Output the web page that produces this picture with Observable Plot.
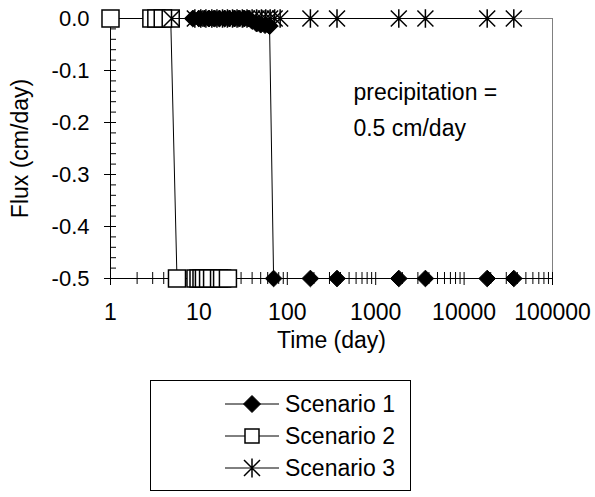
<!DOCTYPE html>
<html><head><meta charset="utf-8">
<script src="https://cdn.jsdelivr.net/npm/d3@7"></script>
<script src="https://cdn.jsdelivr.net/npm/@observablehq/plot@0.6"></script>
<style>
body{margin:0;background:#fff;font-family:"Liberation Sans",Arial,sans-serif;}
#wrap{position:relative;width:595px;height:497px;overflow:hidden;}
#legend{position:absolute;left:150px;top:380px;width:259px;height:109px;border:1px solid #000;background:#fff;}
.row{position:absolute;left:0;height:24px;width:259px;}
.row svg{position:absolute;left:74px;top:0;}
.row span{position:absolute;left:134px;top:0;line-height:24px;font-size:23px;color:#000;white-space:nowrap;}
</style></head><body><div id="wrap"><div id="legend"></div></div>
<script>
// ---- data ----
const seriesNames = ["Scenario 1", "Scenario 2", "Scenario 3"];

const s1Time = [8.5, 10, 11.5, 13, 15, 17, 19.5, 22, 25, 28, 32, 36, 40, 45, 50, 56, 63, 70, 182.5, 365, 1825, 3650, 18250, 36500];
const s1Flux = [0, 0, 0, 0, 0, 0, 0, 0, 0, 0, 0, 0, -0.005, -0.01, -0.012, -0.013, -0.015, -0.5, -0.5, -0.5, -0.5, -0.5, -0.5, -0.5];

const s2Time = [1, 2.9, 3.3, 3.9, 4.8, 5.65, 9.15, 9.9, 10.7, 11.4, 12.7, 14.1, 16.9, 18.3, 21.3];
const s2Flux = [0, 0, 0, 0, 0, -0.5, -0.5, -0.5, -0.5, -0.5, -0.5, -0.5, -0.5, -0.5, -0.5];

const s3Time = [4.9, 9, 10.5, 12, 14, 16, 18.5, 21, 24, 27, 31, 35, 40, 45, 51, 57, 64, 72, 83, 182.5, 365, 1825, 3650, 18250, 36500];
const s3Flux = [0, 0, 0, 0, 0, 0, 0, 0, 0, 0, 0, 0, 0, 0, 0, 0, 0, 0, 0, 0, 0, 0, 0, 0, 0];

const xTickValues = [1, 10, 100, 1000, 10000, 100000];
const xTickLabels = ["1", "10", "100", "1000", "10000", "100000"];
const yTickValues = [0, -0.1, -0.2, -0.3, -0.4, -0.5];
const yTickLabels = ["0.0", "-0.1", "-0.2", "-0.3", "-0.4", "-0.5"];
const xTitle = "Time (day)";
const yTitle = "Flux (cm/day)";
const annotationText = "precipitation =\n0.5 cm/day";
const annotationX = 560;
const annotationY = -0.169;

// ---- build ----
const toRows = (t, f) => t.map((d, i) => ({time: d, flux: f[i]}));
const s1 = toRows(s1Time, s1Flux);
const s2 = toRows(s2Time, s2Flux);
const s3 = toRows(s3Time, s3Flux);

const xMinor = [1, 10, 100, 1000, 10000].flatMap(d => d3.range(2, 10).map(k => d * k));
const yMinor = d3.range(0, 26).map(i => -i / 50);

const excelStar = {
  draw(ctx, size) {
    const r = Math.sqrt(size / Math.PI);
    ctx.moveTo(0, -1.15 * r); ctx.lineTo(0, 1.15 * r);
    ctx.moveTo(-r, -r); ctx.lineTo(r, r);
    ctx.moveTo(-r, r); ctx.lineTo(r, -r);
  }
};

const FS = 23;
const chart = Plot.plot({
  width: 595, height: 370,
  marginLeft: 110, marginRight: 43, marginTop: 18, marginBottom: 92,
  x: {type: "log", domain: [1, 100000]},
  y: {domain: [-0.5, 0]},
  style: {fontFamily: "'Liberation Sans', Arial, sans-serif", fontSize: FS + "px", color: "black", background: "white", overflow: "visible"},
  marks: [
    Plot.ruleY([0], {stroke: "#808080"}),
    Plot.ruleX([100000], {stroke: "#808080"}),
    Plot.ruleX([1], {stroke: "black"}),
    Plot.ruleY([-0.5], {stroke: "black"}),
    Plot.axisX({ticks: xMinor, anchor: "bottom", tickSize: 12, dy: -6, fill: "none", label: null}),
    Plot.axisX({ticks: xTickValues, anchor: "bottom", tickSize: 13, dy: -6, fill: "none", label: null}),
    Plot.axisX({ticks: xTickValues, anchor: "bottom", tickSize: 0, tickPadding: 25, fontSize: FS, label: null,
      tickFormat: d => xTickLabels[xTickValues.indexOf(d)]}),
    Plot.axisY({ticks: yMinor, anchor: "left", tickSize: 6, dx: 6, fill: "none", label: null}),
    Plot.axisY({ticks: yTickValues, anchor: "left", tickSize: 6, tickPadding: 15, fontSize: 22, label: null,
      tickFormat: d => yTickLabels[yTickValues.indexOf(d)]}),
    Plot.text([yTitle], {frameAnchor: "left", dx: -90, rotate: -90, textAnchor: "middle", lineAnchor: "middle", fontSize: FS}),
    Plot.text([xTitle], {frameAnchor: "bottom", dy: 62, textAnchor: "middle", lineAnchor: "middle", fontSize: FS}),
    Plot.text([annotationText], {x: () => annotationX, y: () => annotationY, textAnchor: "start", lineAnchor: "middle", lineHeight: 1.57, fontSize: FS}),
    Plot.line(s1, {x: "time", y: "flux", stroke: "black", strokeWidth: 1}),
    Plot.dot(s1, {x: "time", y: "flux", symbol: "diamond2", r: 7.5, fill: "black", stroke: "black", strokeWidth: 1}),
    Plot.line(s2, {x: "time", y: "flux", stroke: "black", strokeWidth: 1}),
    Plot.dot(s2, {x: "time", y: "flux", symbol: "square", r: 9.6, fill: "white", stroke: "black", strokeWidth: 1.5}),
    Plot.line(s3, {x: "time", y: "flux", stroke: "black", strokeWidth: 1}),
    Plot.dot(s3, {x: "time", y: "flux", symbol: excelStar, r: 8, fill: "none", stroke: "black", strokeWidth: 1.5})
  ]
});
document.getElementById("wrap").prepend(chart);

// ---- legend ----
const legendMarkers = [
  '<path d="M27,3.5L35.5,12L27,20.5L18.5,12Z" fill="black" stroke="black"/>',
  '<rect x="20" y="5" width="14" height="14" fill="white" stroke="black" stroke-width="1.5"/>',
  '<path d="M27,2.5V21.5M19,4L35,20M19,20L35,4" fill="none" stroke="black" stroke-width="1.5"/>'
];
const legend = document.getElementById("legend");
seriesNames.forEach((name, i) => {
  const row = document.createElement("div");
  row.className = "row";
  row.style.top = (11 + 32 * i) + "px";
  row.innerHTML = '<svg width="54" height="24"><line x1="0" x2="54" y1="12" y2="12" stroke="black"/>' + legendMarkers[i] + '</svg><span>' + name + '</span>';
  legend.appendChild(row);
});
</script>
</body></html>
